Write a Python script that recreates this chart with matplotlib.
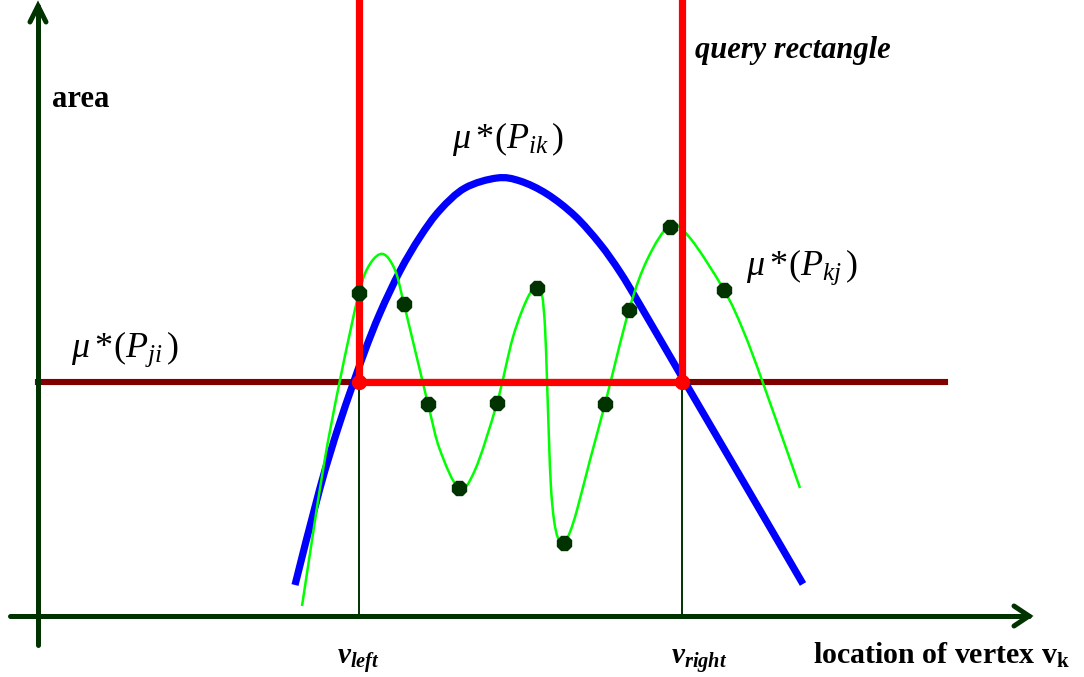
import numpy as np
import matplotlib.pyplot as plt
from matplotlib.path import Path
from matplotlib.patches import PathPatch

plt.rcParams['font.family'] = 'Liberation Serif'
plt.rcParams['mathtext.fontset'] = 'custom'
plt.rcParams['mathtext.rm'] = 'Liberation Serif'
plt.rcParams['mathtext.it'] = 'Liberation Serif:italic'
plt.rcParams['mathtext.bf'] = 'Liberation Serif:bold'
plt.rcParams['mathtext.bfit'] = 'Liberation Serif:bold:italic'

# screen-like coordinates: x to the right, y downward (area grows upward)
v_left = 359
v_right = 682
area_ji = 382          # level of mu*(P_ji)
x_origin, y_origin = 38, 616

# mu*(P_ik): the single-peaked curve
ik_x = [295, 320, 340, 363, 380, 400, 420, 440, 465, 497, 520, 547, 575, 600,
        620, 640, 682, 747, 803]
ik_y = [585, 488, 422, 356, 313, 271, 237, 210, 188, 178, 181, 194, 216, 244,
        272, 305, 377, 488, 584]

# mu*(P_kj): sampled vertex positions
kj_pts_x = [359, 404, 428, 459, 497, 537, 564, 605, 629, 670, 724]
kj_pts_y = [293, 304, 404, 488, 403, 288, 543, 404, 310, 227, 290]

# mu*(P_kj): the wiggly curve through the samples
kj_x = [302, 323, 340, 359, 370, 383, 395, 404, 428, 440, 459, 475, 497, 513,
        528, 537, 542, 545, 547, 549, 551, 554, 558, 564, 570, 577, 590, 605,
        629, 648, 670, 690, 724, 743, 763, 800]
kj_y = [606, 470, 380, 293, 264, 254, 270, 304, 404, 450, 488, 470, 403, 337,
        297, 288, 295, 327, 380, 440, 488, 520, 538, 543, 532, 510, 460, 404,
        310, 258, 226, 238, 290, 330, 383, 488]


def smooth_path(xs, ys):
    # Catmull-Rom through the given points, as cubic Bezier segments
    p = np.column_stack([xs, ys]).astype(float)
    verts = [p[0]]
    codes = [Path.MOVETO]
    n = len(p)
    for i in range(n - 1):
        p0 = p[i - 1] if i > 0 else p[i]
        p1, p2 = p[i], p[i + 1]
        p3 = p[i + 2] if i + 2 < n else p[i + 1]
        verts += [p1 + (p2 - p0) / 6, p2 - (p3 - p1) / 6, p2]
        codes += [Path.CURVE4] * 3
    return Path(verts, codes)


fig = plt.figure(figsize=(10.84, 6.77), dpi=100)
ax = fig.add_axes([0, 0, 1, 1])
ax.set_xlim(0, 1084)
ax.set_ylim(677, 0)
ax.axis('off')

axis_col = '#003300'

# axes with open arrow heads
ax.plot([x_origin, x_origin], [645, 6], color=axis_col, lw=3.6, solid_capstyle='round', zorder=2)
ax.plot([x_origin - 8, x_origin, x_origin + 8], [22, 6, 22], color=axis_col, lw=3.6,
        solid_capstyle='round', solid_joinstyle='miter', zorder=2)
ax.plot([10, 1029], [y_origin, y_origin], color=axis_col, lw=3.6, solid_capstyle='round', zorder=2)
ax.plot([1014, 1029, 1014], [606, y_origin, 626], color=axis_col, lw=3.6,
        solid_capstyle='round', solid_joinstyle='miter', zorder=2)

# mu*(P_ji) level
ax.plot([x_origin, 945], [area_ji, area_ji], color='#800000', lw=4.4, zorder=1)

# drop lines to the location axis
for v in (v_left, v_right):
    ax.plot([v, v], [area_ji, y_origin], color=axis_col, lw=1.4, zorder=1)

ax.add_patch(PathPatch(smooth_path(ik_x, ik_y), fill=False, edgecolor='#0000ff', lw=5.2,
                       capstyle='butt', zorder=3))
ax.add_patch(PathPatch(smooth_path(kj_x, kj_y), fill=False, edgecolor='#00ff00', lw=1.8,
                       zorder=4))

# query rectangle
ax.plot([v_left, v_left], [0, area_ji], color='#ff0000', lw=5.2, zorder=5)
ax.plot([v_right, v_right], [0, area_ji], color='#ff0000', lw=5.2, zorder=5)
ax.plot([v_left, v_right], [area_ji, area_ji], color='#ff0000', lw=5.2, zorder=5)
ax.plot([v_left, v_right], [area_ji, area_ji], 'o', color='#ff0000', ms=10, zorder=6)

ax.plot(kj_pts_x, kj_pts_y, '8', color=axis_col, ms=11, mec=axis_col, zorder=7)

# labels
ax.text(52, 107, 'area', fontsize=22, fontweight='bold', va='baseline', ha='left')
ax.text(695, 58, 'query rectangle', fontsize=22, fontweight='bold', fontstyle='italic',
        va='baseline', ha='left')
ax.text(813, 664, r'location of vertex v$_{\mathbf{k}}$', fontsize=21.5, fontweight='bold',
        va='baseline', ha='left')
ax.text(337, 664, r'$\mathbfit{v}_{\mathbfit{left}}$', fontsize=21, va='baseline', ha='left')
ax.text(671, 664, r'$\mathbfit{v}_{\mathbfit{right}}$', fontsize=21, va='baseline', ha='left')

mu_size = 26
ax.text(71, 357, r'$\mu\:{*}(P_{ji}\,)$', fontsize=mu_size, va='baseline', ha='left')
ax.text(452, 148, r'$\mu\:{*}(P_{ik}\,)$', fontsize=mu_size, va='baseline', ha='left')
ax.text(746, 275, r'$\mu\:{*}(P_{kj}\,)$', fontsize=mu_size, va='baseline', ha='left')

fig.savefig('out.png', dpi=100)
